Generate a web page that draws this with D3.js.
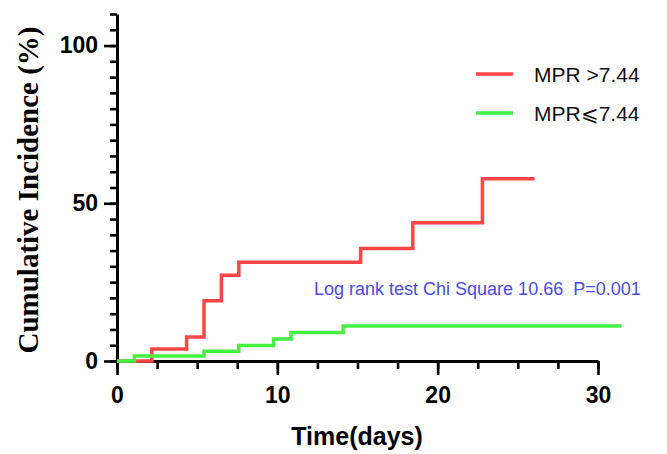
<!DOCTYPE html>
<html>
<head>
<meta charset="utf-8">
<script src="https://cdn.jsdelivr.net/npm/d3@7"></script>
<style>
  body { margin: 0; background: #fff; }
  svg { display: block; }
</style>
</head>
<body>
<svg id="chart"></svg>
<script>
const width = 667;
const height = 454;

// cumulative incidence (%) at each event time (days)
const highTimes = [0, 2, 4, 5, 6, 7, 14, 17, 21, 24];
const highPct = [0, 3.8, 7.6, 19.1, 27.2, 31.3, 35.7, 43.8, 57.8, 57.8];
const lowTimes = [0, 1, 5, 7, 9, 10, 13, 29];
const lowPct = [0, 1.6, 3.1, 4.9, 7.0, 9.0, 11.1, 11.1];

const seriesNames = ['MPR >7.44', 'MPR\u2A7D7.44'];
const seriesColors = ['#ff4545', '#44f044'];

const xMajorTicks = [0, 10, 20, 30];
const xMinorTicks = d3.range(0, 30.01, 2.5);
const yMajorTicks = [0, 50, 100];
const yMinorTicks = d3.range(0, 110.01, 5);

const annotation = 'Log rank test Chi Square 10.66  P=0.001';

const svg = d3.select('#chart')
    .attr('width', width)
    .attr('height', height);

// printed axis
const xAxisScale = d3.scaleLinear().domain([0, 30]).range([117, 598]);
// the curves in the source sit on a slightly wider time scale than the printed axis
const xCurve = d3.scaleLinear().domain([0, 30]).range([117, 639]);
const y = d3.scaleLinear().domain([0, 110]).range([361, 14]);

function styleAxis(g) {
    g.select('.domain').attr('stroke', '#000').attr('stroke-width', 3);
    g.selectAll('.tick line').attr('stroke', '#000').attr('stroke-width', 2.6);
    g.selectAll('.tick text')
        .attr('fill', '#000')
        .style('font-family', '"Liberation Sans", Arial, sans-serif')
        .style('font-weight', 'bold')
        .style('font-size', '23px');
}

// x axis
svg.append('g')
    .attr('transform', `translate(0, ${y(0)})`)
    .call(d3.axisBottom(xAxisScale).tickValues(xMinorTicks).tickSize(8).tickSizeOuter(0).tickFormat(''))
    .call(styleAxis);
svg.append('g')
    .attr('transform', `translate(0, ${y(0)})`)
    .call(d3.axisBottom(xAxisScale).tickValues(xMajorTicks).tickSize(14).tickSizeOuter(0).tickPadding(12))
    .call(styleAxis)
    .call(g => g.select('.domain').remove());

// y axis
svg.append('g')
    .attr('transform', `translate(${xAxisScale(0)}, 0)`)
    .call(d3.axisLeft(y).tickValues(yMinorTicks).tickSize(7).tickSizeOuter(0).tickFormat(''))
    .call(styleAxis);
svg.append('g')
    .attr('transform', `translate(${xAxisScale(0)}, 0)`)
    .call(d3.axisLeft(y).tickValues(yMajorTicks).tickSize(13).tickSizeOuter(0).tickPadding(6))
    .call(styleAxis)
    .call(g => g.select('.domain').remove());

// step curves, drawn over the axis line
const series = [
    highTimes.map((t, i) => [t, highPct[i]]),
    lowTimes.map((t, i) => [t, lowPct[i]])
];

const line = d3.line()
    .x(d => xCurve(d[0]))
    .y(d => y(d[1]))
    .curve(d3.curveStepAfter);

series.forEach((s, i) => {
    svg.append('path')
        .datum(s)
        .attr('fill', 'none')
        .attr('stroke', seriesColors[i])
        .attr('stroke-width', 3.5)
        .attr('d', line);
});

// axis titles
svg.append('text')
    .attr('x', 357)
    .attr('y', 445)
    .attr('text-anchor', 'middle')
    .style('font-family', '"Liberation Sans", Arial, sans-serif')
    .style('font-weight', 'bold')
    .style('font-size', '25px')
    .text('Time(days)');

svg.append('text')
    .attr('transform', 'translate(38, 190) rotate(-90)')
    .attr('text-anchor', 'middle')
    .style('font-family', '"Liberation Serif", "Times New Roman", serif')
    .style('font-weight', 'bold')
    .style('font-size', '29px')
    .text('Cumulative Incidence (%)');

// legend
const legend = svg.append('g')
    .attr('transform', 'translate(476, 74)');

seriesNames.forEach((name, i) => {
    const row = legend.append('g').attr('transform', `translate(0, ${i * 39})`);
    row.append('line')
        .attr('x1', 0).attr('x2', 37)
        .attr('stroke', seriesColors[i])
        .attr('stroke-width', 3.5);
    row.append('text')
        .attr('x', 58)
        .attr('y', 8)
        .style('font-family', '"Liberation Sans", Arial, sans-serif')
        .style('font-size', '21px')
        .attr('fill', '#111')
        .text(name);
});

// log rank annotation
svg.append('text')
    .attr('x', 314)
    .attr('y', 295)
    .style('font-family', '"Liberation Sans", Arial, sans-serif')
    .style('font-size', '18px')
    .style('white-space', 'pre')
    .attr('fill', '#4a4aea')
    .text(annotation);
</script>
</body>
</html>
